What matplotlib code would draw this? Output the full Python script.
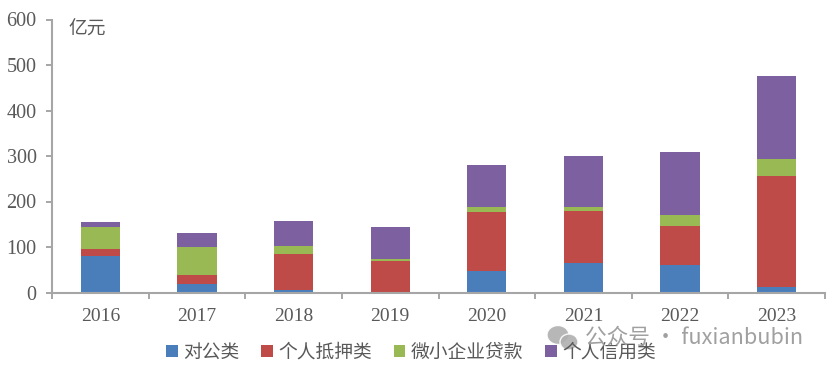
import numpy as np
from matplotlib import pyplot as plt
from matplotlib.patches import Ellipse

plt.rcParams['font.family'] = ['Noto Sans CJK SC', 'DejaVu Sans']

years = ['2016', '2017', '2018', '2019', '2020', '2021', '2022', '2023']
names = ['对公类', '个人抵押类', '微小企业贷款', '个人信用类']
colors = ['#4a7ebb', '#be4b48', '#98b954', '#7d60a0']

corporate = [80, 19, 6, 0, 48, 64, 60, 11]
mortgage = [15, 19, 78, 70, 128, 116, 86, 245]
small_biz = [49, 62, 19, 4, 13, 8, 25, 38]
credit = [11, 30, 55, 69, 92, 112, 138, 182]
series = [corporate, mortgage, small_biz, credit]

W, H = 830, 371
grey = '#595959'
axis_grey = '#a6a6a6'

fig = plt.figure(figsize=(W / 100, H / 100), dpi=100)
ax = fig.add_axes([52 / W, (H - 292.5) / H, (825 - 52) / W, 273 / H])

x = np.arange(len(years))
bottom = np.zeros(len(years))
for vals, name, c in zip(series, names, colors):
    ax.bar(x, vals, width=0.405, bottom=bottom, color=c, label=name, zorder=2)
    bottom += np.array(vals)

ax.set_xlim(-0.5, 7.5)
ax.set_ylim(0, 600)
ax.set_yticks(range(0, 601, 100))
ax.set_xticks(np.arange(-0.5, 8, 1))
ax.set_xticklabels([])
ax.set_xticks(x, minor=True)
ax.set_xticklabels(years, minor=True, family='Liberation Serif', fontsize=14, color=grey)
for lab in ax.get_yticklabels():
    lab.set_family('Liberation Serif')
    lab.set_fontsize(14.5)
    lab.set_color(grey)

ax.tick_params(axis='y', length=4, width=1.4, color=axis_grey, pad=7)
ax.tick_params(axis='x', which='major', length=4.5, width=1.4, color=axis_grey)
ax.tick_params(axis='x', which='minor', length=0, pad=11)

for s in ['top', 'right']:
    ax.spines[s].set_visible(False)
for s in ['left', 'bottom']:
    ax.spines[s].set_color(axis_grey)
    ax.spines[s].set_linewidth(1.5)

fig.text(68 / W, (H - 29) / H, '亿元', fontsize=13.5, color=grey, va='center')

fig.legend(loc='center', bbox_to_anchor=(411 / W, (H - 352) / H), ncol=4, frameon=False,
           prop={'family': ['Noto Sans CJK SC', 'DejaVu Sans'], 'size': 13.5},
           labelcolor=grey, handlelength=0.62, handleheight=0.62,
           handletextpad=0.3, columnspacing=1.15, borderpad=0)

# watermark over the legend
for cx, cy, w, h in [(558, 335, 22, 19), (569, 342, 18, 16)]:
    fig.add_artist(Ellipse((cx / W, (H - cy) / H), w / W, h / H, transform=fig.transFigure,
                           facecolor='#b0b0b0', edgecolor='white', linewidth=1, alpha=0.9, zorder=5))
fig.text(585 / W, (H - 338) / H, '公众号 · fuxianbubin', fontsize=15.6, color='#a0a0a0',
         va='center', zorder=6)

fig.savefig('out.png', dpi=100)
